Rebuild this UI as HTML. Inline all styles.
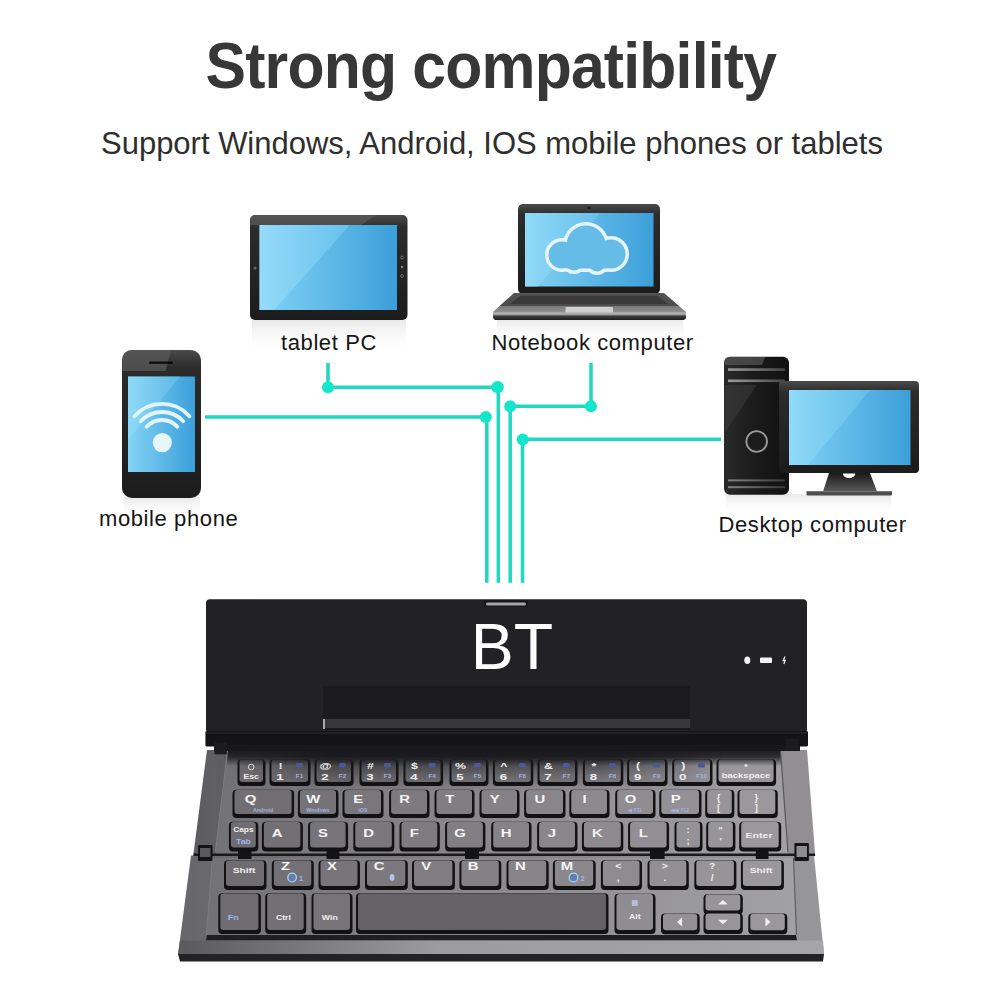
<!DOCTYPE html>
<html><head><meta charset="utf-8">
<style>
html,body{margin:0;padding:0;background:#fff;width:1001px;height:1001px;overflow:hidden}
svg{display:block}
text{font-family:"Liberation Sans",sans-serif}
.kl{font-size:10.3px;font-weight:bold;fill:#f4f4f4}
.kn{font-size:9.5px;font-weight:bold;fill:#eeeeee}
.ks{font-size:7.3px;font-weight:bold;fill:#eeeeee}
.kb{font-size:4.8px;font-weight:bold;fill:#a6b0e0}
.kb2{font-size:7.5px;font-weight:bold;fill:#9fb4ea}
</style></head>
<body>
<svg width="1001" height="1001" viewBox="0 0 1001 1001">
<defs>
<linearGradient id="scr" x1="0" y1="0" x2="1" y2="0">
<stop offset="0" stop-color="#83d3f5"/><stop offset="1" stop-color="#3c9fd9"/>
</linearGradient>
<linearGradient id="scrhi" x1="0" y1="0" x2="1" y2="0">
<stop offset="0" stop-color="#9bdefa"/><stop offset="1" stop-color="#6cc6ef"/>
</linearGradient>
<linearGradient id="bez" x1="0" y1="0" x2="0" y2="1">
<stop offset="0" stop-color="#4a4a4a"/><stop offset="0.12" stop-color="#2c2c2c"/><stop offset="1" stop-color="#1c1c1c"/>
</linearGradient>
<linearGradient id="tower" x1="0" y1="0" x2="1" y2="0">
<stop offset="0" stop-color="#2a2a2a"/><stop offset="0.5" stop-color="#1a1a1a"/><stop offset="1" stop-color="#111"/>
</linearGradient>
<linearGradient id="nbbase" x1="0" y1="0" x2="0" y2="1">
<stop offset="0" stop-color="#555"/><stop offset="0.48" stop-color="#4a4a4a"/><stop offset="0.5" stop-color="#7a7a7a"/><stop offset="0.7" stop-color="#8e8e8e"/><stop offset="0.74" stop-color="#bababa"/><stop offset="0.8" stop-color="#9a9a9a"/><stop offset="0.86" stop-color="#3a3a3a"/><stop offset="1" stop-color="#1e1e1e"/>
</linearGradient>
<linearGradient id="key" x1="0" y1="0" x2="0" y2="1">
<stop offset="0" stop-color="#525255"/><stop offset="1" stop-color="#454548"/>
</linearGradient>
<linearGradient id="lid" x1="0" y1="0" x2="1" y2="0">
<stop offset="0" stop-color="#1b1b1f"/><stop offset="0.5" stop-color="#1d1d21"/><stop offset="1" stop-color="#18181b"/>
</linearGradient>
<linearGradient id="frameL" x1="0" y1="0" x2="1" y2="0">
<stop offset="0" stop-color="#3c3c3f"/><stop offset="0.5" stop-color="#444447"/><stop offset="1" stop-color="#56565a"/>
</linearGradient>
<linearGradient id="kbf" gradientUnits="userSpaceOnUse" x1="180" y1="0" x2="825" y2="0">
<stop offset="0" stop-color="#67666b"/><stop offset="0.5" stop-color="#848287"/><stop offset="1" stop-color="#979699"/>
</linearGradient>
<linearGradient id="kbw" gradientUnits="userSpaceOnUse" x1="200" y1="0" x2="800" y2="0">
<stop offset="0" stop-color="#727176"/><stop offset="0.5" stop-color="#8c8a8f"/><stop offset="1" stop-color="#a2a1a6"/>
</linearGradient>
<linearGradient id="kbb" gradientUnits="userSpaceOnUse" x1="180" y1="0" x2="825" y2="0">
<stop offset="0" stop-color="#5a595e"/><stop offset="0.4" stop-color="#9c9b9f"/><stop offset="1" stop-color="#a6a5a9"/>
</linearGradient>
<linearGradient id="topsh" gradientUnits="userSpaceOnUse" x1="0" y1="750" x2="0" y2="792">
<stop offset="0" stop-color="#18181c" stop-opacity="0.9"/><stop offset="0.25" stop-color="#18181c" stop-opacity="0.62"/><stop offset="0.6" stop-color="#18181c" stop-opacity="0.28"/><stop offset="1" stop-color="#18181c" stop-opacity="0"/>
</linearGradient>
<linearGradient id="topband" gradientUnits="userSpaceOnUse" x1="0" y1="750" x2="0" y2="766">
<stop offset="0" stop-color="#1c1c20" stop-opacity="1"/><stop offset="0.45" stop-color="#1c1c20" stop-opacity="0.85"/><stop offset="1" stop-color="#1c1c20" stop-opacity="0"/>
</linearGradient>
<linearGradient id="shx" gradientUnits="userSpaceOnUse" x1="215" y1="0" x2="790" y2="0">
<stop offset="0" stop-color="#fff" stop-opacity="0"/><stop offset="0.061" stop-color="#fff" stop-opacity="0.2"/><stop offset="0.2" stop-color="#fff" stop-opacity="1"/><stop offset="0.67" stop-color="#fff" stop-opacity="1"/><stop offset="0.8" stop-color="#fff" stop-opacity="0.5"/><stop offset="0.88" stop-color="#fff" stop-opacity="0"/>
</linearGradient>
<mask id="shmask" maskUnits="userSpaceOnUse" x="0" y="0" width="1001" height="1001"><rect x="215" y="750" width="575" height="42" fill="url(#shx)"/></mask>
<linearGradient id="refl" x1="0" y1="0" x2="0" y2="1">
<stop offset="0" stop-color="#e9e9e9"/><stop offset="1" stop-color="#fff" stop-opacity="0"/>
</linearGradient>
<linearGradient id="stripe" x1="0" y1="0" x2="1" y2="0">
<stop offset="0" stop-color="#9a9a9a"/><stop offset="0.6" stop-color="#6a6a6a"/><stop offset="1" stop-color="#444"/>
</linearGradient>
<linearGradient id="kbfu" gradientUnits="userSpaceOnUse" x1="190" y1="0" x2="815" y2="0">
<stop offset="0" stop-color="#5d5c61"/><stop offset="0.5" stop-color="#827f85"/><stop offset="1" stop-color="#929094"/>
</linearGradient>
<linearGradient id="neck" x1="0" y1="0" x2="0" y2="1">
<stop offset="0" stop-color="#1a1a1a"/><stop offset="1" stop-color="#5a5a5a"/>
</linearGradient>
</defs>
<rect width="1001" height="1001" fill="#fff"/>
<!-- Title -->
<text transform="translate(205.5 88) scale(1 1.065)" font-size="60.7" font-weight="bold" fill="#373737" letter-spacing="-0.8">Strong compatibility</text>
<text transform="translate(101 154.3) scale(1 1.04)" font-size="31" fill="#2e2e2e">Support Windows, Android, IOS mobile phones or tablets</text>

<!-- connection lines -->
<g stroke="#1fd8c0" stroke-width="3.5" fill="none">
<path d="M328 363V387.2H498.3V582.7"/>
<path d="M205 417.1H486.8V582.7"/>
<path d="M591 363V406.3H510.2V582.7"/>
<path d="M721 439.3H522.5V582.7"/>
</g>
<g fill="#14e6cc">
<circle cx="328" cy="387.2" r="6"/><circle cx="497.6" cy="387.2" r="6.2"/>
<circle cx="485.8" cy="417.1" r="6"/><circle cx="510.2" cy="406.3" r="6"/>
<circle cx="591" cy="406.3" r="6"/><circle cx="522.7" cy="439.4" r="6"/>
</g>

<!-- reflections -->
<rect x="252" y="320" width="154" height="34" fill="url(#refl)"/>
<rect x="497" y="320" width="186" height="24" fill="url(#refl)"/>
<rect x="124" y="497" width="76" height="22" fill="url(#refl)"/>
<rect x="726" y="494" width="165" height="22" fill="url(#refl)"/>
<!-- tablet -->
<rect x="250" y="215" width="157.5" height="105" rx="5" fill="url(#bez)"/>
<path d="M255 215.3H376L361 225H250.3V220Q250.3 215.3 255 215.3Z" fill="#5a5a5a" opacity="0.7"/>
<rect x="259.5" y="225" width="137.5" height="85" fill="url(#scr)"/>
<path d="M259.5 225H350L274 310H259.5Z" fill="url(#scrhi)" opacity="0.75"/>
<circle cx="255" cy="268" r="1.5" fill="#666"/>
<circle cx="402" cy="257.5" r="1.4" fill="none" stroke="#777" stroke-width="0.8"/>
<circle cx="402" cy="267" r="1.2" fill="#888"/>
<circle cx="402" cy="276" r="1.4" fill="none" stroke="#777" stroke-width="0.8"/>
<text x="281" y="349.5" font-size="22" letter-spacing="0.6" fill="#151515">tablet PC</text>

<!-- notebook -->
<rect x="518" y="204" width="142" height="90" rx="5" fill="url(#bez)"/>
<rect x="525" y="213" width="128.5" height="73.5" fill="url(#scr)"/>
<path d="M525 213H600L538 286.5H525Z" fill="url(#scrhi)" opacity="0.6"/>
<circle cx="589" cy="208" r="1.3" fill="#111"/>
<g fill="#e6f5fd"><circle cx="586" cy="245" r="23"/><circle cx="562" cy="255" r="17"/><circle cx="611" cy="254" r="18"/><circle cx="574" cy="262" r="12"/><circle cx="597" cy="263" r="12"/><rect x="562" y="250" width="50" height="22" rx="8"/></g>
<g fill="#64bce7"><circle cx="586" cy="245" r="19.5"/><circle cx="562" cy="255" r="13.5"/><circle cx="611" cy="254" r="14.5"/><circle cx="574" cy="262" r="8.5"/><circle cx="597" cy="263" r="8.5"/><rect x="562" y="250" width="50" height="18.5" rx="6"/></g>
<path d="M514 293H664L686 312V318L684 320H495L493 318V312Z" fill="url(#nbbase)"/>
<path d="M521 295.5H657L668 304H510Z" fill="#3a3a3a"/>
<rect x="565.5" y="307" width="47.5" height="5.5" rx="1.2" fill="#d0d0d0"/>
<text x="491.5" y="349.5" font-size="22" letter-spacing="0.6" fill="#151515">Notebook computer</text>

<!-- phone -->
<rect x="122" y="350" width="79" height="148" rx="10" fill="url(#bez)"/>
<path d="M132 350.3H171L165.5 371H122.3V360Q122.3 350.3 132 350.3Z" fill="#5a5a5a" opacity="0.75"/>
<rect x="128" y="376.5" width="67" height="95.5" fill="url(#scr)"/>
<path d="M128 376.5H180L128 440Z" fill="url(#scrhi)" opacity="0.5"/>
<rect x="149" y="361.5" width="24" height="2.2" rx="1" fill="#0a0a0a"/>
<g fill="none" stroke="#e2f5fd" stroke-width="3.8" stroke-linecap="round">
<path d="M134.5 416.2A37 37 0 0 1 189.5 416.2"/>
<path d="M140.8 421.2A29 29 0 0 1 183.2 421.2"/>
<path d="M146.6 426.7A21 21 0 0 1 177.4 426.7"/>
</g>
<circle cx="162.3" cy="442.6" r="9.6" fill="#e6f6fd"/>
<text x="99" y="526" font-size="22" letter-spacing="0.6" fill="#151515">mobile phone</text>

<!-- desktop -->
<rect x="724" y="356.7" width="65" height="138" rx="6" fill="url(#tower)"/>
<path d="M730 357H765L762 365H724.5V362Q724.5 357 730 357Z" fill="#555" opacity="0.7"/>
<path d="M725 385H757L725 432Z" fill="#3a3a3a" opacity="0.6"/>
<rect x="728" y="368.3" width="57" height="2.6" fill="url(#stripe)"/>
<rect x="728" y="379.5" width="57" height="2.6" fill="url(#stripe)"/>
<rect x="728" y="479.4" width="57" height="2" fill="url(#stripe)" opacity="0.8"/>
<rect x="728" y="486.2" width="57" height="2" fill="url(#stripe)" opacity="0.8"/>
<circle cx="756.7" cy="441.5" r="10.3" fill="#1c1c1c" stroke="#9a9a9a" stroke-width="1.8"/>
<rect x="779" y="381" width="140" height="92" rx="4" fill="url(#bez)"/>
<rect x="789" y="390" width="121.5" height="75" fill="url(#scr)"/>
<path d="M789 390H870L808 465H789Z" fill="url(#scrhi)" opacity="0.6"/>
<path d="M829 473H870L877 491.5H823Z" fill="url(#neck)"/>
<path d="M842.8 473.5A6.3 4.6 0 0 0 855.4 473.5Z" fill="#fff"/>
<rect x="806.5" y="491" width="85.5" height="4.6" rx="1" fill="#4e4e4e"/>
<rect x="806.5" y="491" width="85.5" height="1" fill="#777"/>
<text x="718.5" y="531.8" font-size="22" letter-spacing="0.6" fill="#151515">Desktop computer</text>

<!-- keyboard body -->
<path d="M191 855.5H814L824 955H178Z" fill="url(#kbf)"/>
<path d="M213 858H793L796 935H207Z" fill="url(#kbw)"/>
<path d="M212.5 858L206.5 935" stroke="#7c7b80" stroke-width="1.3"/>
<path d="M793.5 858L796.5 935" stroke="#606065" stroke-width="1.2"/>
<path d="M207 935H796L797 940.6H206Z" fill="#1f1f23"/>
<path d="M178 954H824L823 961.5H180Z" fill="#232327"/>
<path d="M180 940.6H823L824 954H178Z" fill="url(#kbb)"/>
<path d="M207 750H807L815.1 854H193.4Z" fill="url(#kbfu)"/>
<path d="M228 751H780L787.6 854H215.8Z" fill="url(#kbw)"/>
<path d="M227.5 751L215.5 852" stroke="#7c7b80" stroke-width="1.3"/>
<path d="M780.5 751L788 852" stroke="#5a595e" stroke-width="1.2"/>
<path d="M193.5 853.6H815L815.2 856H193.3Z" fill="#1a1a1d"/>
<rect x="198" y="845" width="14.5" height="16" rx="1" fill="#141416"/><rect x="200" y="848" width="10.5" height="9" fill="#5a595e"/>
<rect x="794.4" y="843" width="14.5" height="18" rx="1" fill="#141416"/><rect x="796.5" y="846" width="10.5" height="11" fill="#8e8d92"/>
<rect x="238" y="849.6" width="13.5" height="9.4" fill="#141416"/><rect x="326.6" y="849.6" width="12.8" height="9.4" fill="#141416"/>
<rect x="465" y="849.6" width="14" height="9.4" fill="#141416"/><rect x="650" y="849.6" width="14.6" height="9.4" fill="#141416"/>
<rect x="755.8" y="849.6" width="12.7" height="9.4" fill="#141416"/>
<rect x="237.5" y="759.3" width="28.0" height="26.7" rx="4" fill="#121214"/>
<rect x="269.5" y="759.3" width="41.0" height="26.7" rx="4" fill="#121214"/>
<rect x="314.5" y="759.3" width="39.0" height="26.7" rx="4" fill="#121214"/>
<rect x="359.5" y="759.3" width="39.0" height="26.7" rx="4" fill="#121214"/>
<rect x="403.5" y="759.3" width="39.6" height="26.7" rx="4" fill="#121214"/>
<rect x="449.5" y="759.3" width="39.0" height="26.7" rx="4" fill="#121214"/>
<rect x="492.9" y="759.3" width="40.4" height="26.7" rx="4" fill="#121214"/>
<rect x="537.5" y="759.3" width="40.0" height="26.7" rx="4" fill="#121214"/>
<rect x="582.9" y="759.3" width="40.4" height="26.7" rx="4" fill="#121214"/>
<rect x="627.1" y="759.3" width="40.4" height="26.7" rx="4" fill="#121214"/>
<rect x="672.2" y="759.3" width="40.3" height="26.7" rx="4" fill="#121214"/>
<rect x="716.5" y="759.3" width="59.6" height="26.7" rx="4" fill="#121214"/>
<rect x="232.5" y="789.8" width="61.6" height="28.2" rx="4" fill="#121214"/>
<rect x="297.9" y="789.8" width="40.6" height="28.2" rx="4" fill="#121214"/>
<rect x="342.5" y="789.8" width="41.0" height="28.2" rx="4" fill="#121214"/>
<rect x="389.1" y="789.8" width="40.4" height="28.2" rx="4" fill="#121214"/>
<rect x="434.5" y="789.8" width="40.0" height="28.2" rx="4" fill="#121214"/>
<rect x="479.5" y="789.8" width="40.0" height="28.2" rx="4" fill="#121214"/>
<rect x="524.1" y="789.8" width="41.4" height="28.2" rx="4" fill="#121214"/>
<rect x="569.3" y="789.8" width="40.2" height="28.2" rx="4" fill="#121214"/>
<rect x="615.2" y="789.8" width="40.3" height="28.2" rx="4" fill="#121214"/>
<rect x="659.3" y="789.8" width="42.2" height="28.2" rx="4" fill="#121214"/>
<rect x="705.2" y="789.8" width="29.1" height="28.2" rx="4" fill="#121214"/>
<rect x="737.5" y="789.8" width="40.3" height="28.2" rx="4" fill="#121214"/>
<rect x="228.9" y="821.8" width="29.4" height="29.7" rx="4" fill="#121214"/>
<rect x="261.9" y="821.8" width="41.0" height="29.7" rx="4" fill="#121214"/>
<rect x="308.1" y="821.8" width="40.0" height="29.7" rx="4" fill="#121214"/>
<rect x="353.3" y="821.8" width="41.0" height="29.7" rx="4" fill="#121214"/>
<rect x="399.5" y="821.8" width="40.3" height="29.7" rx="4" fill="#121214"/>
<rect x="445.1" y="821.8" width="40.3" height="29.7" rx="4" fill="#121214"/>
<rect x="491.2" y="821.8" width="40.3" height="29.7" rx="4" fill="#121214"/>
<rect x="537.1" y="821.8" width="40.4" height="29.7" rx="4" fill="#121214"/>
<rect x="581.9" y="821.8" width="41.4" height="29.7" rx="4" fill="#121214"/>
<rect x="628.1" y="821.8" width="41.0" height="29.7" rx="4" fill="#121214"/>
<rect x="674.5" y="821.8" width="28.0" height="29.7" rx="4" fill="#121214"/>
<rect x="706.2" y="821.8" width="29.2" height="29.7" rx="4" fill="#121214"/>
<rect x="739.2" y="821.8" width="42.0" height="29.7" rx="4" fill="#121214"/>
<rect x="224.0" y="860.3" width="42.5" height="29.7" rx="4" fill="#121214"/>
<rect x="271.8" y="860.3" width="42.0" height="29.7" rx="4" fill="#121214"/>
<rect x="318.5" y="860.3" width="41.5" height="29.7" rx="4" fill="#121214"/>
<rect x="365.0" y="860.3" width="42.8" height="29.7" rx="4" fill="#121214"/>
<rect x="412.0" y="860.3" width="42.9" height="29.7" rx="4" fill="#121214"/>
<rect x="459.4" y="860.3" width="41.9" height="29.7" rx="4" fill="#121214"/>
<rect x="506.5" y="860.3" width="42.2" height="29.7" rx="4" fill="#121214"/>
<rect x="552.9" y="860.3" width="42.8" height="29.7" rx="4" fill="#121214"/>
<rect x="600.9" y="860.3" width="41.1" height="29.7" rx="4" fill="#121214"/>
<rect x="647.5" y="860.3" width="41.3" height="29.7" rx="4" fill="#121214"/>
<rect x="694.3" y="860.3" width="42.1" height="29.7" rx="4" fill="#121214"/>
<rect x="740.9" y="860.3" width="43.0" height="29.7" rx="4" fill="#121214"/>
<rect x="218.3" y="893.3" width="42.6" height="40.7" rx="4" fill="#121214"/>
<rect x="265.2" y="893.3" width="41.0" height="40.7" rx="4" fill="#121214"/>
<rect x="311.5" y="893.3" width="41.0" height="40.7" rx="4" fill="#121214"/>
<rect x="356.0" y="893.3" width="252.5" height="40.7" rx="4" fill="#121214"/>
<rect x="614.5" y="893.8" width="41.0" height="40.2" rx="4" fill="#121214"/>
<rect x="661.0" y="913.6" width="38.7" height="20.7" rx="4" fill="#121214"/>
<rect x="703.5" y="894.3" width="39.3" height="20.2" rx="4" fill="#121214"/>
<rect x="703.5" y="913.3" width="39.3" height="20.7" rx="4" fill="#121214"/>
<rect x="748.3" y="913.6" width="39.0" height="20.7" rx="4" fill="#121214"/>
<rect x="239.5" y="759.5" width="23.5" height="22.5" rx="3" fill="#706e73"/>
<rect x="271.5" y="759.5" width="36.5" height="22.5" rx="3" fill="#737176"/>
<rect x="316.5" y="759.5" width="34.5" height="22.5" rx="3" fill="#767479"/>
<rect x="361.5" y="759.5" width="34.5" height="22.5" rx="3" fill="#7a787d"/>
<rect x="405.5" y="759.5" width="35.1" height="22.5" rx="3" fill="#7e7c81"/>
<rect x="451.5" y="759.5" width="34.5" height="22.5" rx="3" fill="#828085"/>
<rect x="494.9" y="759.5" width="35.9" height="22.5" rx="3" fill="#858388"/>
<rect x="539.5" y="759.5" width="35.5" height="22.5" rx="3" fill="#89878c"/>
<rect x="584.9" y="759.5" width="35.9" height="22.5" rx="3" fill="#8d8b90"/>
<rect x="629.1" y="759.5" width="35.9" height="22.5" rx="3" fill="#908e93"/>
<rect x="674.2" y="759.5" width="35.8" height="22.5" rx="3" fill="#949297"/>
<rect x="718.5" y="759.5" width="55.1" height="22.5" rx="3" fill="#99979c"/>
<rect x="234.5" y="790.0" width="57.1" height="24.0" rx="3" fill="#716f74"/>
<rect x="299.9" y="790.0" width="36.1" height="24.0" rx="3" fill="#757378"/>
<rect x="344.5" y="790.0" width="36.5" height="24.0" rx="3" fill="#79777c"/>
<rect x="391.1" y="790.0" width="35.9" height="24.0" rx="3" fill="#7d7b80"/>
<rect x="436.5" y="790.0" width="35.5" height="24.0" rx="3" fill="#807e83"/>
<rect x="481.5" y="790.0" width="35.5" height="24.0" rx="3" fill="#848287"/>
<rect x="526.1" y="790.0" width="36.9" height="24.0" rx="3" fill="#88868b"/>
<rect x="571.3" y="790.0" width="35.7" height="24.0" rx="3" fill="#8c8a8f"/>
<rect x="617.2" y="790.0" width="35.8" height="24.0" rx="3" fill="#8f8d92"/>
<rect x="661.3" y="790.0" width="37.7" height="24.0" rx="3" fill="#939196"/>
<rect x="707.2" y="790.0" width="24.6" height="24.0" rx="3" fill="#969499"/>
<rect x="739.5" y="790.0" width="35.8" height="24.0" rx="3" fill="#9a989d"/>
<rect x="230.9" y="822.0" width="24.9" height="25.5" rx="3" fill="#6f6d72"/>
<rect x="263.9" y="822.0" width="36.5" height="25.5" rx="3" fill="#727075"/>
<rect x="310.1" y="822.0" width="35.5" height="25.5" rx="3" fill="#767479"/>
<rect x="355.3" y="822.0" width="36.5" height="25.5" rx="3" fill="#7a787d"/>
<rect x="401.5" y="822.0" width="35.8" height="25.5" rx="3" fill="#7e7c81"/>
<rect x="447.1" y="822.0" width="35.8" height="25.5" rx="3" fill="#817f84"/>
<rect x="493.2" y="822.0" width="35.8" height="25.5" rx="3" fill="#858388"/>
<rect x="539.1" y="822.0" width="35.9" height="25.5" rx="3" fill="#89878c"/>
<rect x="583.9" y="822.0" width="36.9" height="25.5" rx="3" fill="#8d8b90"/>
<rect x="630.1" y="822.0" width="36.5" height="25.5" rx="3" fill="#918f94"/>
<rect x="676.5" y="822.0" width="23.5" height="25.5" rx="3" fill="#949297"/>
<rect x="708.2" y="822.0" width="24.7" height="25.5" rx="3" fill="#97959a"/>
<rect x="741.2" y="822.0" width="37.5" height="25.5" rx="3" fill="#9a989d"/>
<rect x="226.0" y="860.5" width="38.0" height="25.5" rx="3" fill="#6f6d72"/>
<rect x="273.8" y="860.5" width="37.5" height="25.5" rx="3" fill="#737176"/>
<rect x="320.5" y="860.5" width="37.0" height="25.5" rx="3" fill="#77757a"/>
<rect x="367.0" y="860.5" width="38.3" height="25.5" rx="3" fill="#7b797e"/>
<rect x="414.0" y="860.5" width="38.4" height="25.5" rx="3" fill="#7f7d82"/>
<rect x="461.4" y="860.5" width="37.4" height="25.5" rx="3" fill="#838186"/>
<rect x="508.5" y="860.5" width="37.7" height="25.5" rx="3" fill="#87858a"/>
<rect x="554.9" y="860.5" width="38.3" height="25.5" rx="3" fill="#8a888d"/>
<rect x="602.9" y="860.5" width="36.6" height="25.5" rx="3" fill="#8e8c91"/>
<rect x="649.5" y="860.5" width="36.8" height="25.5" rx="3" fill="#929095"/>
<rect x="696.3" y="860.5" width="37.6" height="25.5" rx="3" fill="#969499"/>
<rect x="742.9" y="860.5" width="38.5" height="25.5" rx="3" fill="#9a989d"/>
<rect x="220.3" y="893.5" width="38.1" height="36.5" rx="3" fill="#6f6d72"/>
<rect x="267.2" y="893.5" width="36.5" height="36.5" rx="3" fill="#727075"/>
<rect x="313.5" y="893.5" width="36.5" height="36.5" rx="3" fill="#767479"/>
<rect x="358.0" y="893.5" width="248.0" height="36.5" rx="3" fill="#646267"/>
<rect x="616.5" y="894.0" width="36.5" height="36.0" rx="3" fill="#8f8d92"/>
<rect x="663.0" y="913.8" width="34.2" height="16.5" rx="3" fill="#939196"/>
<rect x="705.5" y="894.5" width="34.8" height="16.0" rx="3" fill="#97959a"/>
<rect x="705.5" y="913.5" width="34.8" height="16.5" rx="3" fill="#97959a"/>
<rect x="750.3" y="913.8" width="34.5" height="16.5" rx="3" fill="#9a989d"/>
<path d="M228 750H780L781.2 767H226.7Z" fill="url(#topband)"/>
<rect x="215" y="750" width="575" height="42" fill="url(#topsh)" mask="url(#shmask)"/>
<circle cx="251.2" cy="767.0" r="2.8" fill="none" stroke="#d8d8d8" stroke-width="1"/>
<text transform="translate(251.2 779.0) scale(1.2 1)" class="ks" text-anchor="middle">Esc</text>
<text transform="translate(280.5 769.0) scale(1.3 1)" class="kn" text-anchor="middle">!</text>
<text transform="translate(280.0 780.0) scale(1.4 1)" class="kn" text-anchor="middle">1</text>
<rect x="296.0" y="763.0" width="7" height="4.5" rx="1.5" fill="#4d5894"/>
<text transform="translate(299.5 778.0) scale(1.3 1)" class="kb" text-anchor="middle">F1</text>
<text transform="translate(325.5 769.0) scale(1.3 1)" class="kn" text-anchor="middle">@</text>
<text transform="translate(325.0 780.0) scale(1.4 1)" class="kn" text-anchor="middle">2</text>
<rect x="339.0" y="763.0" width="7" height="4.5" rx="1.5" fill="#4d5894"/>
<text transform="translate(342.5 778.0) scale(1.3 1)" class="kb" text-anchor="middle">F2</text>
<text transform="translate(370.5 769.0) scale(1.3 1)" class="kn" text-anchor="middle">#</text>
<text transform="translate(370.0 780.0) scale(1.4 1)" class="kn" text-anchor="middle">3</text>
<rect x="384.0" y="763.0" width="7" height="4.5" rx="1.5" fill="#4d5894"/>
<text transform="translate(387.5 778.0) scale(1.3 1)" class="kb" text-anchor="middle">F3</text>
<text transform="translate(414.5 769.0) scale(1.3 1)" class="kn" text-anchor="middle">$</text>
<text transform="translate(414.0 780.0) scale(1.4 1)" class="kn" text-anchor="middle">4</text>
<rect x="428.6" y="763.0" width="7" height="4.5" rx="1.5" fill="#4d5894"/>
<text transform="translate(432.1 778.0) scale(1.3 1)" class="kb" text-anchor="middle">F4</text>
<text transform="translate(460.5 769.0) scale(1.3 1)" class="kn" text-anchor="middle">%</text>
<text transform="translate(460.0 780.0) scale(1.4 1)" class="kn" text-anchor="middle">5</text>
<rect x="474.0" y="763.0" width="7" height="4.5" rx="1.5" fill="#4d5894"/>
<text transform="translate(477.5 778.0) scale(1.3 1)" class="kb" text-anchor="middle">F5</text>
<text transform="translate(503.9 769.0) scale(1.3 1)" class="kn" text-anchor="middle">^</text>
<text transform="translate(503.4 780.0) scale(1.4 1)" class="kn" text-anchor="middle">6</text>
<rect x="518.8" y="763.0" width="7" height="4.5" rx="1.5" fill="#4d5894"/>
<text transform="translate(522.3 778.0) scale(1.3 1)" class="kb" text-anchor="middle">F6</text>
<text transform="translate(548.5 769.0) scale(1.3 1)" class="kn" text-anchor="middle">&amp;</text>
<text transform="translate(548.0 780.0) scale(1.4 1)" class="kn" text-anchor="middle">7</text>
<rect x="563.0" y="763.0" width="7" height="4.5" rx="1.5" fill="#4d5894"/>
<text transform="translate(566.5 778.0) scale(1.3 1)" class="kb" text-anchor="middle">F7</text>
<text transform="translate(593.9 769.0) scale(1.3 1)" class="kn" text-anchor="middle">*</text>
<text transform="translate(593.4 780.0) scale(1.4 1)" class="kn" text-anchor="middle">8</text>
<rect x="608.8" y="763.0" width="7" height="4.5" rx="1.5" fill="#4d5894"/>
<text transform="translate(612.3 778.0) scale(1.3 1)" class="kb" text-anchor="middle">F8</text>
<text transform="translate(638.1 769.0) scale(1.3 1)" class="kn" text-anchor="middle">(</text>
<text transform="translate(637.6 780.0) scale(1.4 1)" class="kn" text-anchor="middle">9</text>
<rect x="653.0" y="763.0" width="7" height="4.5" rx="1.5" fill="#4d5894"/>
<text transform="translate(656.5 778.0) scale(1.3 1)" class="kb" text-anchor="middle">F9</text>
<text transform="translate(683.2 769.0) scale(1.3 1)" class="kn" text-anchor="middle">)</text>
<text transform="translate(682.7 780.0) scale(1.4 1)" class="kn" text-anchor="middle">0</text>
<rect x="698.0" y="763.0" width="7" height="4.5" rx="1.5" fill="#4d5894"/>
<text transform="translate(701.5 778.0) scale(1.3 1)" class="kb" text-anchor="middle">F10</text>
<circle cx="746.0" cy="765.5" r="1.6" fill="#e0e0e0"/>
<text transform="translate(746.0 777.5) scale(1.3 1)" class="ks" text-anchor="middle">backspace</text>
<text transform="translate(250.5 803.0) scale(1.45 1)" class="kl" text-anchor="middle">Q</text>
<text transform="translate(263.1 811.5) scale(1.1 1)" class="kb" text-anchor="middle">Android</text>
<text transform="translate(313.4 803.0) scale(1.45 1)" class="kl" text-anchor="middle">W</text>
<text transform="translate(317.9 811.5) scale(1.1 1)" class="kb" text-anchor="middle">Windows</text>
<text transform="translate(358.2 803.0) scale(1.45 1)" class="kl" text-anchor="middle">E</text>
<text transform="translate(362.8 811.5) scale(1.1 1)" class="kb" text-anchor="middle">iOS</text>
<text transform="translate(404.6 803.0) scale(1.45 1)" class="kl" text-anchor="middle">R</text>
<text transform="translate(449.8 803.0) scale(1.45 1)" class="kl" text-anchor="middle">T</text>
<text transform="translate(494.8 803.0) scale(1.45 1)" class="kl" text-anchor="middle">Y</text>
<text transform="translate(540.0 803.0) scale(1.45 1)" class="kl" text-anchor="middle">U</text>
<text transform="translate(584.6 803.0) scale(1.45 1)" class="kl" text-anchor="middle">I</text>
<text transform="translate(630.6 803.0) scale(1.45 1)" class="kl" text-anchor="middle">O</text>
<text transform="translate(635.1 811.5) scale(1.0 1)" class="kb" text-anchor="middle">◀ F11</text>
<text transform="translate(675.6 803.0) scale(1.45 1)" class="kl" text-anchor="middle">P</text>
<text transform="translate(680.1 811.5) scale(1.0 1)" class="kb" text-anchor="middle">◀◀ F12</text>
<text transform="translate(718.5 800.5) scale(1.0 1)" class="kn" text-anchor="middle">{</text>
<text transform="translate(718.5 811.0) scale(1.0 1)" class="kn" text-anchor="middle">[</text>
<text transform="translate(756.4 800.5) scale(1.0 1)" class="kn" text-anchor="middle">}</text>
<text transform="translate(756.4 811.0) scale(1.0 1)" class="kn" text-anchor="middle">]</text>
<text transform="translate(243.4 832.0) scale(1.15 1)" class="ks" text-anchor="middle">Caps</text>
<text transform="translate(243.4 844.0) scale(1.15 1)" class="kb2" text-anchor="middle">Tab</text>
<text transform="translate(277.1 836.5) scale(1.45 1)" class="kl" text-anchor="middle">A</text>
<text transform="translate(322.9 836.5) scale(1.45 1)" class="kl" text-anchor="middle">S</text>
<text transform="translate(368.6 836.5) scale(1.45 1)" class="kl" text-anchor="middle">D</text>
<text transform="translate(414.4 836.5) scale(1.45 1)" class="kl" text-anchor="middle">F</text>
<text transform="translate(460.0 836.5) scale(1.45 1)" class="kl" text-anchor="middle">G</text>
<text transform="translate(506.1 836.5) scale(1.45 1)" class="kl" text-anchor="middle">H</text>
<text transform="translate(552.0 836.5) scale(1.45 1)" class="kl" text-anchor="middle">J</text>
<text transform="translate(597.3 836.5) scale(1.45 1)" class="kl" text-anchor="middle">K</text>
<text transform="translate(643.4 836.5) scale(1.45 1)" class="kl" text-anchor="middle">L</text>
<text transform="translate(688.2 833.0) scale(1.0 1)" class="kn" text-anchor="middle">:</text>
<text transform="translate(688.2 844.0) scale(1.0 1)" class="kn" text-anchor="middle">;</text>
<text transform="translate(720.5 833.0) scale(1.0 1)" class="kn" text-anchor="middle">&quot;</text>
<text transform="translate(720.5 844.0) scale(1.0 1)" class="kn" text-anchor="middle">'</text>
<text transform="translate(759.0 838.0) scale(1.45 1)" class="ks" text-anchor="middle">Enter</text>
<text transform="translate(244.0 872.5) scale(1.4 1)" class="ks" text-anchor="middle">Shift</text>
<text transform="translate(285.6 870.0) scale(1.45 1)" class="kl" text-anchor="middle">Z</text>
<circle cx="292.1" cy="877.5" r="4.3" fill="#5c7fae" stroke="#a8d4f4" stroke-width="1.3"/>
<text transform="translate(301.1 881.0) scale(1.0 1)" class="kb2" text-anchor="middle">1</text>
<text transform="translate(332.0 870.0) scale(1.45 1)" class="kl" text-anchor="middle">X</text>
<text transform="translate(379.1 870.0) scale(1.45 1)" class="kl" text-anchor="middle">C</text>
<ellipse cx="392.1" cy="877.5" rx="2.4" ry="3.4" fill="#a8c8f0"/>
<text transform="translate(426.2 870.0) scale(1.45 1)" class="kl" text-anchor="middle">V</text>
<text transform="translate(473.1 870.0) scale(1.45 1)" class="kl" text-anchor="middle">B</text>
<text transform="translate(520.4 870.0) scale(1.45 1)" class="kl" text-anchor="middle">N</text>
<text transform="translate(567.0 870.0) scale(1.45 1)" class="kl" text-anchor="middle">M</text>
<circle cx="573.5" cy="877.5" r="4.3" fill="#5c7fae" stroke="#a8d4f4" stroke-width="1.3"/>
<text transform="translate(582.5 881.0) scale(1.0 1)" class="kb2" text-anchor="middle">2</text>
<text transform="translate(618.2 869.0) scale(1.1 1)" class="kn" text-anchor="middle">&lt;</text>
<text transform="translate(618.2 880.5) scale(1.1 1)" class="kn" text-anchor="middle">,</text>
<text transform="translate(664.9 869.0) scale(1.1 1)" class="kn" text-anchor="middle">&gt;</text>
<text transform="translate(664.9 880.5) scale(1.1 1)" class="kn" text-anchor="middle">.</text>
<text transform="translate(712.1 869.0) scale(1.1 1)" class="kn" text-anchor="middle">?</text>
<text transform="translate(712.1 880.5) scale(1.1 1)" class="kn" text-anchor="middle">/</text>
<text transform="translate(761.1 872.5) scale(1.4 1)" class="ks" text-anchor="middle">Shift</text>
<text transform="translate(233.3 920.0) scale(1.2 1)" class="kb2" text-anchor="middle">Fn</text>
<text transform="translate(283.4 920.0) scale(1.2 1)" class="ks" text-anchor="middle">Ctrl</text>
<text transform="translate(329.8 920.0) scale(1.2 1)" class="ks" text-anchor="middle">Win</text>
<rect x="631.8" y="900.0" width="6" height="6" rx="1" fill="#b8bad8"/>
<text transform="translate(634.8 919.0) scale(1.2 1)" class="ks" text-anchor="middle">Alt</text>
<path d="M677.1 922.0l5 -4.5v9z" fill="#eee"/>
<path d="M722.9 900.0l5 4.5h-10z" fill="#eee"/>
<path d="M722.9 924.2l5 -4.5h-10z" fill="#eee"/>
<path d="M770.5 922.0l-5 -4.5v9z" fill="#eee"/>
<!-- lid -->
<rect x="206" y="599.3" width="601" height="134" rx="4" fill="#222126"/>
<rect x="205.4" y="731" width="602.6" height="15.5" rx="1.5" fill="#141418"/>
<rect x="214" y="745" width="586" height="6" fill="#18181c"/>
<rect x="214.5" y="742.4" width="12.2" height="11.9" fill="#1c1c20"/>
<rect x="786" y="738.8" width="12.8" height="11.5" fill="#1c1c20"/>
<rect x="206" y="732.5" width="601" height="1" fill="#2c2c32"/>
<rect x="484" y="600.5" width="44" height="6" rx="1" fill="#151518"/><rect x="486" y="602.5" width="40" height="3" rx="1.5" fill="#a5a5a8"/>
<rect x="323" y="686" width="367" height="44" fill="#1b1b1d"/>
<rect x="323" y="719" width="367" height="9" fill="#38383a"/>
<rect x="323" y="719" width="2" height="10" fill="#aaa"/>
<text x="512" y="668.8" font-size="64.5" fill="#fff" text-anchor="middle">BT</text>
<ellipse cx="747.3" cy="660.2" rx="3" ry="3.8" fill="#f4f4f4"/>
<rect x="760" y="657.5" width="12" height="5.5" rx="1" fill="#f4f4f4"/>
<path d="M785 656.5l-1.8 4h2l-1.4 3.5" stroke="#eee" stroke-width="1.3" fill="none"/>
</svg>
</body></html>
